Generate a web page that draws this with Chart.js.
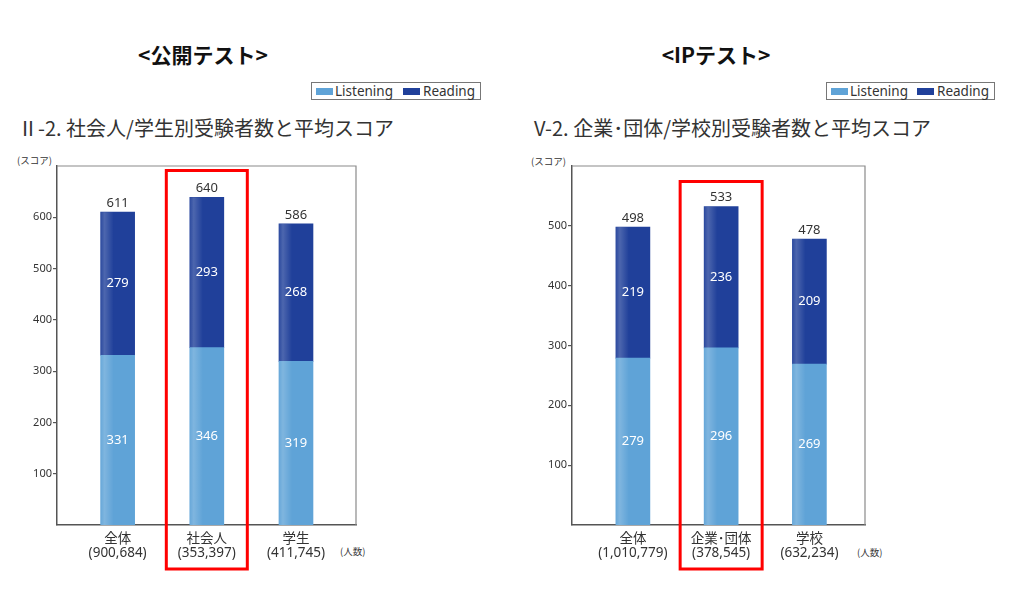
<!DOCTYPE html>
<html lang="ja">
<head>
<meta charset="utf-8">
<title>TOEIC 平均スコア</title>
<script src="https://cdn.jsdelivr.net/npm/chart.js@4.4.1/dist/chart.umd.min.js"></script>
<style>
    body { margin: 0; background: #fff; font-family: 'Noto Sans CJK JP', 'Noto Sans', sans-serif; color: #333; }
    #page { position: relative; width: 1024px; height: 602px; overflow: hidden; }
    .abs { position: absolute; white-space: nowrap; }
    .head { font-size: 21px; font-weight: bold; color: #111; line-height: 24px; text-align: center; width: 220px; }
    .sub { font-size: 20px; line-height: 24px; color: #333; }
    .unit { font-size: 9.5px; line-height: 12px; color: #333; }
    .legend { height: 18px; border: 1px solid #777; box-sizing: border-box; font-size: 13.5px; line-height: 16px; font-family: 'Noto Sans', sans-serif; }
    .legend span { position: absolute; top: 0; }
    .legend i { position: absolute; top: 5px; width: 17px; height: 7px; }
    canvas { position: absolute; }
</style>
</head>
<body>
<div id="page">
    <div class="abs head" style="left:93px; top:42px;">&lt;公開テスト&gt;</div>
    <div class="abs head" style="left:606px; top:42px;">&lt;IPテスト&gt;</div>

    <div class="abs legend" style="left:311px; top:82px; width:170px;">
        <i style="left:4px; background:#5fa3d7;"></i><span style="left:23px;">Listening</span>
        <i style="left:91px; background:#20409a;"></i><span style="left:111px;">Reading</span>
    </div>
    <div class="abs legend" style="left:826px; top:82px; width:169px;">
        <i style="left:4px; background:#5fa3d7;"></i><span style="left:23px;">Listening</span>
        <i style="left:90px; background:#20409a;"></i><span style="left:110px;">Reading</span>
    </div>

    <div class="abs sub" style="left:18px; top:116px;">Ⅱ-2. 社会人/学生別受験者数と平均スコア</div>
    <div class="abs sub" style="left:534px; top:116px;">V-2. 企業･団体/学校別受験者数と平均スコア</div>

    <div class="abs unit" style="left:17px; top:154px;">(スコア)</div>
    <div class="abs unit" style="left:531px; top:155px;">(スコア)</div>
    <div class="abs unit" style="left:340px; top:545px;">(人数)</div>
    <div class="abs unit" style="left:857px; top:546px;">(人数)</div>

    <canvas id="publicChart" width="512" height="430" style="left:0; top:150px;"></canvas>
    <canvas id="ipChart" width="512" height="430" style="left:512px; top:150px;"></canvas>
</div>

<script>
/* ===== DATA ===== */
const publicCategories = [['全体', '(900,684)'], ['社会人', '(353,397)'], ['学生', '(411,745)']];
const publicListening = [331, 346, 319];
const publicReading = [279, 293, 268];
const publicTotals = [611, 640, 586];
const publicTicks = [100, 200, 300, 400, 500, 600];

const ipCategories = [['全体', '(1,010,779)'], ['企業･団体', '(378,545)'], ['学校', '(632,234)']];
const ipListening = [279, 296, 269];
const ipReading = [219, 236, 209];
const ipTotals = [498, 533, 478];
const ipTicks = [100, 200, 300, 400, 500];

const LIGHT = '#5fa3d7';
const DARK = '#20409a';
const FONT = "'Noto Sans', 'Noto Sans CJK JP', sans-serif";

/* ===== PLUGIN: shine, labels, frame, highlight ===== */
const decorPlugin = {
    id: 'decor',
    afterDatasetsDraw(chart, args, opts) {
        const ctx = chart.ctx;
        ctx.save();
        chart.data.datasets.forEach((ds, i) => {
            chart.getDatasetMeta(i).data.forEach(bar => {
                const left = bar.x - bar.width / 2;
                const g = ctx.createLinearGradient(left, 0, left + 13, 0);
                g.addColorStop(0, 'rgba(255,255,255,0.06)');
                g.addColorStop(0.3, 'rgba(255,255,255,0.2)');
                g.addColorStop(1, 'rgba(255,255,255,0)');
                ctx.fillStyle = g;
                ctx.fillRect(left, bar.y, 13, bar.base - bar.y);
            });
        });

        ctx.textAlign = 'center';
        ctx.textBaseline = 'middle';
        ctx.font = '13px ' + FONT;
        ctx.fillStyle = '#fff';
        chart.data.datasets.forEach((ds, i) => {
            chart.getDatasetMeta(i).data.forEach((bar, j) => {
                ctx.fillText(ds.data[j].y, bar.x, (bar.y + bar.base) / 2);
            });
        });

        ctx.fillStyle = '#333';
        const topMeta = chart.getDatasetMeta(chart.data.datasets.length - 1);
        topMeta.data.forEach((bar, j) => {
            ctx.fillText(opts.totals[j], bar.x, bar.y - 9);
        });
        ctx.restore();
    },
    afterDraw(chart, args, opts) {
        const ctx = chart.ctx;
        const a = chart.chartArea;
        ctx.save();
        ctx.strokeStyle = '#8a8a8a';
        ctx.lineWidth = 1.2;
        ctx.beginPath();
        ctx.moveTo(a.left, a.top);
        ctx.lineTo(a.right, a.top);
        ctx.lineTo(a.right, a.bottom);
        ctx.stroke();

        const cx = chart.scales.x.getPixelForValue(opts.highlight);
        ctx.strokeStyle = '#ff0000';
        ctx.lineWidth = 3;
        ctx.strokeRect(cx - opts.boxHalf, opts.boxTop, opts.boxHalf * 2, opts.boxBottom - opts.boxTop);
        ctx.restore();
    }
};

/* ===== BUILD CHART ===== */
function buildChart(id, cfg) {
    const points = arr => arr.map((v, i) => ({ x: i, y: v }));
    return new Chart(document.getElementById(id).getContext('2d'), {
        type: 'bar',
        data: {
            datasets: [
                { label: 'Listening', data: points(cfg.listening), backgroundColor: LIGHT, stack: 's', barThickness: 34 },
                { label: 'Reading', data: points(cfg.reading), backgroundColor: DARK, stack: 's', barThickness: 34 }
            ]
        },
        plugins: [decorPlugin],
        options: {
            responsive: false,
            animation: false,
            layout: { padding: { top: 16, right: cfg.padRight, left: 0, bottom: 0 } },
            plugins: {
                legend: { display: false },
                tooltip: { enabled: false },
                decor: {
                    totals: cfg.totals,
                    highlight: 1,
                    boxHalf: cfg.boxHalf,
                    boxTop: cfg.boxTop,
                    boxBottom: 419
                }
            },
            scales: {
                x: {
                    type: 'linear',
                    offset: false,
                    min: cfg.xMin,
                    max: cfg.xMax,
                    afterBuildTicks: scale => { scale.ticks = cfg.categories.map((c, i) => ({ value: i })); },
                    afterFit: scale => { scale.height = cfg.xHeight; },
                    grid: { display: false, offset: false },
                    border: { display: true, color: '#555', width: 1.5 },
                    ticks: {
                        autoSkip: false,
                        maxRotation: 0,
                        padding: -1,
                        color: '#333',
                        font: { family: FONT, size: 13.5, lineHeight: 1.05 },
                        callback: (value, index) => cfg.categories[index]
                    }
                },
                y: {
                    stacked: true,
                    min: 0,
                    max: cfg.yMax,
                    afterBuildTicks: scale => { scale.ticks = cfg.ticks.map(v => ({ value: v })); },
                    afterFit: scale => { scale.width = cfg.yWidth; },
                    grid: { drawOnChartArea: false, drawTicks: true, tickLength: 4, color: '#555', lineWidth: 1.2 },
                    border: { display: true, color: '#555', width: 1.5 },
                    ticks: {
                        padding: 1,
                        color: '#333',
                        font: { family: FONT, size: 11 }
                    }
                }
            }
        }
    });
}

/* ===== INIT ===== */
buildChart('publicChart', {
    categories: publicCategories,
    listening: publicListening,
    reading: publicReading,
    totals: publicTotals,
    ticks: publicTicks,
    yMax: 700,
    xMin: -0.68,
    xMax: 2.673,
    yWidth: 57,
    xHeight: 55,
    padRight: 156,
    boxHalf: 40.5,
    boxTop: 20.5
});

buildChart('ipChart', {
    categories: ipCategories,
    listening: ipListening,
    reading: ipReading,
    totals: ipTotals,
    ticks: ipTicks,
    yMax: 600,
    xMin: -0.69,
    xMax: 2.63,
    yWidth: 60,
    xHeight: 55,
    padRight: 159,
    boxHalf: 41,
    boxTop: 31.5
});
</script>
</body>
</html>
